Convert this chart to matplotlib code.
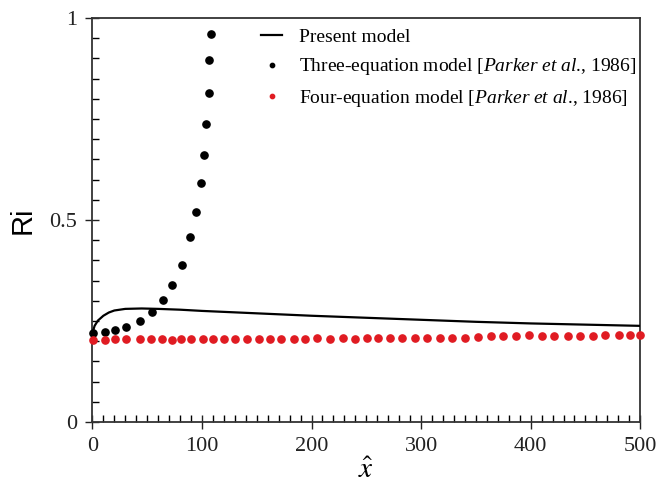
import matplotlib
matplotlib.use("Agg")
import matplotlib.pyplot as plt
from matplotlib.ticker import MultipleLocator

# Present model: Richardson number along the current
line_x = [0, 2, 5, 10, 15, 20, 30, 45, 60, 80, 100, 150, 200, 250, 300, 350, 400, 450, 500]
line_ri = [0.220, 0.238, 0.251, 0.263, 0.271, 0.276, 0.280, 0.281, 0.280, 0.278, 0.275,
           0.269, 0.263, 0.258, 0.253, 0.248, 0.244, 0.241, 0.238]

# Three-equation model (Parker et al., 1986)
three_x = [1, 11.5, 21, 31, 43, 54, 64, 73, 81.5, 89, 95, 99.5, 102, 104, 106, 106.5, 108]
three_ri = [0.220, 0.223, 0.227, 0.234, 0.249, 0.272, 0.301, 0.339, 0.389, 0.459,
            0.521, 0.592, 0.662, 0.737, 0.815, 0.897, 0.961]

# Four-equation model (Parker et al., 1986)
four_x = [0.7, 11.3, 20.6, 30.3, 43.3, 53.9, 63.6, 72.6, 80.6, 89.9, 100.5, 109.9, 120.2,
          130.5, 141.1, 151.8, 162.1, 172.1, 184.1, 194.4, 205.1, 216.7, 228.4, 239.3,
          251.0, 260.7, 271.3, 282.3, 294.0, 305.3, 317.2, 327.9, 339.9, 351.9, 363.5,
          374.5, 386.5, 398.8, 410.8, 421.1, 434.1, 444.7, 456.7, 467.7, 480.4, 490.7, 500.0]
four_ri = [0.203, 0.203, 0.205, 0.205, 0.205, 0.205, 0.205, 0.203, 0.205, 0.205, 0.205,
           0.205, 0.205, 0.205, 0.205, 0.205, 0.205, 0.205, 0.205, 0.205, 0.207, 0.205,
           0.207, 0.205, 0.207, 0.207, 0.207, 0.207, 0.207, 0.209, 0.207, 0.207, 0.209,
           0.210, 0.212, 0.213, 0.213, 0.215, 0.213, 0.213, 0.213, 0.213, 0.213, 0.215,
           0.215, 0.215, 0.216]

x_ticks = [0, 100, 200, 300, 400, 500]
y_ticks = [0, 0.5, 1]
y_tick_labels = ["0", "0.5", "1"]

plt.rcParams["font.family"] = ["Liberation Serif", "DejaVu Serif"]
plt.rcParams["mathtext.fontset"] = "custom"
plt.rcParams["mathtext.rm"] = "Liberation Serif"
plt.rcParams["mathtext.it"] = "Liberation Serif:italic"

fig = plt.figure(figsize=(6.6, 4.93), dpi=100)
ax = fig.add_axes([0.140, 0.144, 0.830, 0.8195])

ax.plot(line_x, line_ri, color="black", lw=1.6, label="Present model", zorder=3)
ax.plot(three_x, three_ri, ls="none", marker="o", ms=5.2, color="black",
        label=r"Three-equation model [$\mathit{Parker\ et\ al}$., 1986]",
        clip_on=False, zorder=4)
ax.plot(four_x, four_ri, ls="none", marker="o", ms=5.2, color="#e01b22",
        label=r"Four-equation model [$\mathit{Parker\ et\ al}$., 1986]",
        clip_on=False, zorder=4)

ax.set_xlim(0, 500)
ax.set_ylim(0, 1)
ax.set_xticks(x_ticks)
ax.set_yticks(y_ticks)
ax.set_yticklabels(y_tick_labels)
ax.xaxis.set_minor_locator(MultipleLocator(10))
ax.yaxis.set_minor_locator(MultipleLocator(0.05))
ax.tick_params(which="major", direction="inout", length=10, width=1.0,
               labelsize=16, colors="#222222", pad=6)
ax.tick_params(which="minor", direction="in", length=5, width=1.0)
ax.tick_params(top=False, right=False, which="both")

for s in ax.spines.values():
    s.set_linewidth(1.3)
    s.set_color("#333333")

ax.set_xlabel(r"$\hat{x}$", fontsize=21, math_fontfamily="stix", labelpad=1)
ax.set_ylabel("Ri", fontsize=21, family="Liberation Sans", labelpad=9)

leg = ax.legend(loc="upper left", bbox_to_anchor=(0.288, 1.0), frameon=False,
                fontsize=14.0, handlelength=1.1, markerscale=0.6,
                labelspacing=0.52, handletextpad=0.85, borderaxespad=0.15)

fig.savefig("out.png", dpi=100)
